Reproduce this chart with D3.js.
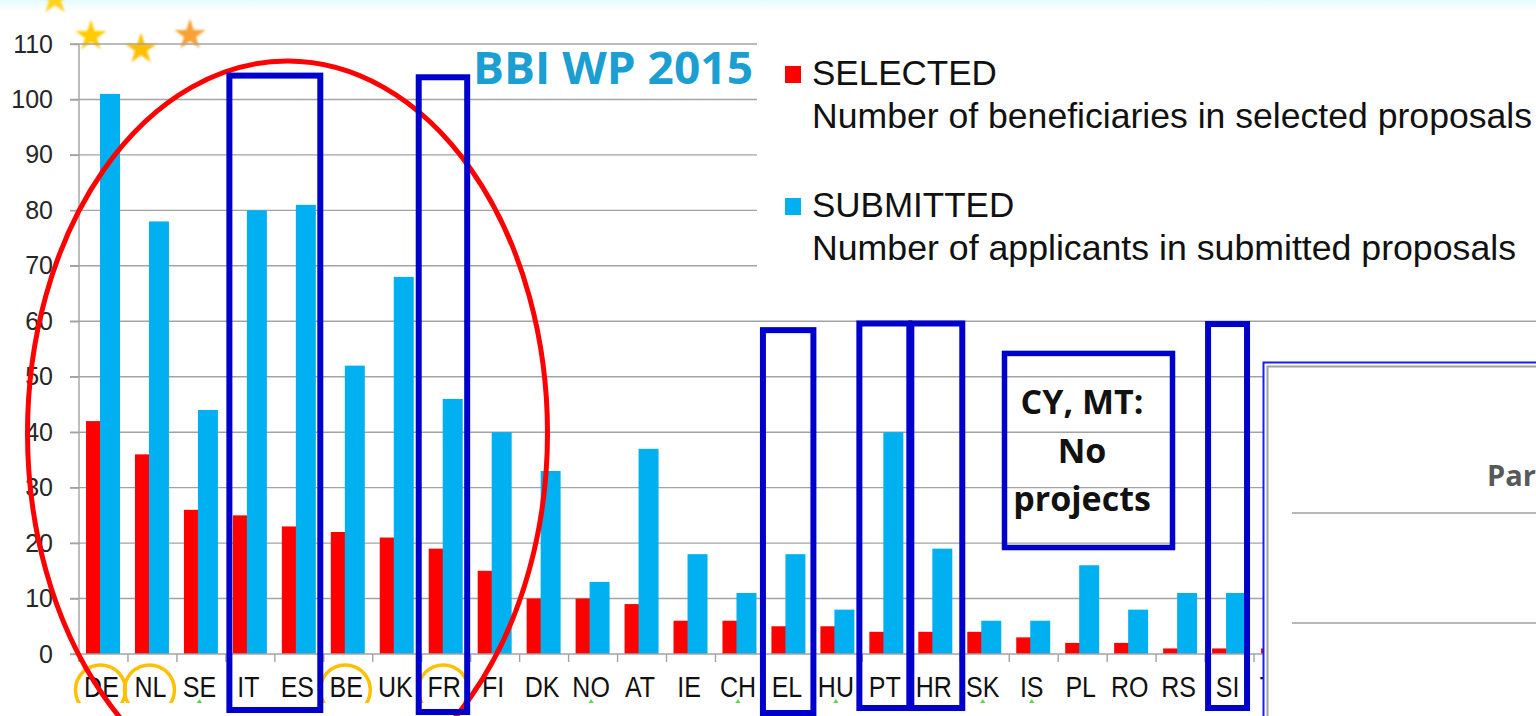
<!DOCTYPE html>
<html>
<head>
<meta charset="utf-8">
<script src="https://cdn.jsdelivr.net/npm/d3@7/dist/d3.min.js"></script>
<style>
  html, body { margin: 0; padding: 0; background: #fff; }
  svg { display: block; }
</style>
</head>
<body>
<svg id="chart" width="1536" height="716"></svg>
<script>
// ---------------- DATA ----------------
const categories = ["DE","NL","SE","IT","ES","BE","UK","FR","FI","DK","NO","AT","IE","CH","EL","HU","PT","HR","SK","IS","PL","RO","RS","SI","TR"];
const selected   = [42, 36, 26, 25, 23, 22, 21, 19, 15, 10, 10,  9,  6,  6,  5,  5,  4,  4,  4,  3,  2,  2,  1,  1,  1];
const submitted  = [101,78, 44, 80, 81, 52, 68, 46, 40, 33, 13, 37, 18, 11, 18,  8, 40, 19,  6,  6, 16,  8, 11, 11,  2];
const yTicks     = [0,10,20,30,40,50,60,70,80,90,100,110];
const seriesNames = ["SELECTED","SUBMITTED"];
const seriesDesc  = ["Number of beneficiaries in selected proposals","Number of applicants in submitted proposals"];
const circledCats = ["DE","NL","BE","FR"];
const flaggedCats = ["SE","NO","CH","HU","SK","IS"];

// ---------------- SETUP ----------------
const W = 1536, H = 716;
const svg = d3.select("#chart");
const colors = ["#ff0000", "#00b0f0"];

const x0 = d3.scaleBand().domain(categories).range([79, 79 + 25 * 48.96]).paddingInner(0).paddingOuter(0);
const y = d3.scaleLinear().domain([0, 110]).range([654, 44]);
const step = x0.step();

// top light strip
const defs = svg.append("defs");
const lg = defs.append("linearGradient").attr("id","topg").attr("x1",0).attr("y1",0).attr("x2",0).attr("y2",1);
lg.append("stop").attr("offset","0%").attr("stop-color","#e6fbff");
lg.append("stop").attr("offset","100%").attr("stop-color","#ffffff");
svg.append("rect").attr("x",0).attr("y",0).attr("width",W).attr("height",12).attr("fill","url(#topg)");
defs.append("filter").attr("id","blur").append("feGaussianBlur").attr("stdDeviation",0.8);

// decorative stars / bits at top-left
const starSym = r => d3.symbol().type(d3.symbolStar).size(r * r / 0.8908130915292852)();
const stars = [
  {x: 55, y: -1, c: "#ffd21a"},
  {x: 91, y: 36, c: "#ffcc00"},
  {x: 141, y: 49, c: "#ffbf00"},
  {x: 190, y: 35, c: "#f7a234"}
];
svg.append("g").attr("filter","url(#blur)").selectAll("path").data(stars).join("path")
  .attr("d", starSym(16.5)).attr("transform", d => `translate(${d.x},${d.y})`).attr("fill", d => d.c);
const gBits = svg.append("g").attr("filter","url(#blur)").attr("stroke","#b5d77a").attr("stroke-width",3).attr("stroke-linecap","round");
gBits.append("line").attr("x1",81).attr("x2",108).attr("y1",6).attr("y2",6);
gBits.append("line").attr("x1",133).attr("x2",160).attr("y1",6).attr("y2",6);
gBits.append("line").attr("x1",189).attr("x2",191).attr("y1",6).attr("y2",6);

// ---------------- GRID ----------------
svg.append("g").selectAll("line").data(yTicks.filter(t => t > 0)).join("line")
  .attr("x1", 70).attr("x2", W)
  .attr("y1", d => y(d)).attr("y2", d => y(d))
  .attr("stroke", "#a3a3a3").attr("stroke-width", 1.4);

// ---------------- BARS ----------------
// Excel-like overlapping bars: each bar ~20px, second series overlaps the first
const groupOffset = step * 0.143;
const barW = step * 0.408;
const seriesShift = step * 0.286;
const gBars = svg.append("g");
[selected, submitted].forEach((vals, si) => {
  gBars.append("g").selectAll("rect").data(categories).join("rect")
    .attr("x", (c) => x0(c) + groupOffset + si * seriesShift)
    .attr("y", (c, i) => y(vals[i]))
    .attr("width", barW)
    .attr("height", (c, i) => y(0) - y(vals[i]))
    .attr("fill", colors[si]);
});

// ---------------- AXES ----------------
const yAxis = d3.axisLeft(y).tickValues(yTicks).tickSize(9).tickPadding(17).tickFormat(d3.format("d"));
const gy = svg.append("g").attr("transform", "translate(79,0)").call(yAxis);
gy.select(".domain").attr("stroke", "#a3a3a3").attr("stroke-width", 1.4).attr("d", `M0,${y(110)}V${y(0) + 8}`);
gy.selectAll(".tick line").attr("stroke", "#a3a3a3").attr("stroke-width", 1.4);
gy.selectAll(".tick text").attr("font-family", "'Liberation Sans', Arial, sans-serif")
  .attr("font-size", 25).attr("fill", "#262626");

// x axis line + boundary ticks
svg.append("line").attr("x1", 70).attr("x2", W).attr("y1", y(0)).attr("y2", y(0))
  .attr("stroke", "#a3a3a3").attr("stroke-width", 1.4);
svg.append("g").selectAll("line").data(categories).join("line")
  .attr("x1", d => x0(d)).attr("x2", d => x0(d))
  .attr("y1", y(0)).attr("y2", y(0) + 8)
  .attr("stroke", "#a3a3a3").attr("stroke-width", 1.4);

// category labels
svg.append("g").selectAll("text").data(categories).join("text")
  .attr("transform", d => `translate(${x0(d) + step / 2 - 2},697) scale(1,1.2)`)
  .attr("text-anchor", "middle")
  .attr("font-family", "'Liberation Sans', Arial, sans-serif")
  .attr("font-size", 25).attr("fill", "#111")
  .text(d => d);

// green small markers under some labels
svg.append("g").selectAll("path").data(flaggedCats).join("path")
  .attr("d", d => { const cx = x0(d) + step / 2 - 2; return `M${cx - 4},705 L${cx},699 L${cx + 4},705 Z`; })
  .attr("fill", "#5fd84a");

// orange circles around labels
svg.append("g").selectAll("ellipse").data(circledCats).join("ellipse")
  .attr("cx", d => x0(d) + step / 2 - 3).attr("cy", 690)
  .attr("rx", 25).attr("ry", 25)
  .attr("fill", "none").attr("stroke", "#ffc000").attr("stroke-width", 3.5);
// bottom white strip (cuts circles as in the source)
svg.append("rect").attr("x", 0).attr("y", 703).attr("width", W).attr("height", 13).attr("fill", "#fff");

// ---------------- LEGEND ----------------
svg.append("rect").attr("x", 757).attr("y", 28).attr("width", W - 757).attr("height", 272).attr("fill", "#fff");
const lgG = svg.append("g").attr("font-family", "'Liberation Sans', Arial, sans-serif").attr("font-size", 35).attr("fill", "#111");
const descLen = [720, 704];
seriesNames.forEach((s, i) => {
  const base = 85 + i * 132;
  lgG.append("rect").attr("x", 785).attr("y", base - 19).attr("width", 16).attr("height", 17).attr("fill", colors[i]);
  lgG.append("text").attr("x", 812).attr("y", base).text(s);
  lgG.append("text").attr("x", 812).attr("y", base + 43)
    .attr("textLength", descLen[i]).attr("lengthAdjust", "spacingAndGlyphs").text(seriesDesc[i]);
});

// title
svg.append("text").attr("x", 473).attr("y", 84)
  .attr("font-family", "'Open Sans', 'Noto Sans', sans-serif").attr("font-weight", 700)
  .attr("font-size", 44).attr("fill", "#1b9fd2")
  .attr("textLength", 280).attr("lengthAdjust", "spacingAndGlyphs")
  .text("BBI WP 2015");

// ---------------- ANNOTATIONS ----------------
// red ellipse
svg.append("ellipse").attr("cx", 287.5).attr("cy", 433).attr("rx", 260).attr("ry", 372)
  .attr("fill", "none").attr("stroke", "#ff0000").attr("stroke-width", 5);

// blue boxes (hand drawn highlights)
const boxes = [
  {from: "IT", to: "ES", top: 104.3, bottom: 710, d0: 3.5, d1: -3.5},
  {from: "FR", to: "FR", top: 104.0, bottom: 712, d0: -3, d1: -3.5},
  {from: "EL", to: "EL", top: 58.4,  bottom: 713, d0: -1.5, d1: 0},
  {from: "PT", to: "PT", top: 59.6,  bottom: 708, d0: -3, d1: -2},
  {from: "HR", to: "HR", top: 59.6,  bottom: 708, d0: 0, d1: 2},
  {from: "SI", to: "SI", top: 59.5,  bottom: 708, d0: 3, d1: -7}
];
svg.append("g").selectAll("rect").data(boxes).join("rect")
  .attr("x", d => x0(d.from) + d.d0)
  .attr("y", d => y(d.top))
  .attr("width", d => (x0(d.to) + step + d.d1) - (x0(d.from) + d.d0))
  .attr("height", d => d.bottom - y(d.top))
  .attr("fill", "none").attr("stroke", "#0000cc").attr("stroke-width", 6);

// CY, MT note box
const note = svg.append("g");
note.append("rect").attr("x", 1004.5).attr("y", y(54.2)).attr("width", 168).attr("height", y(19.2) - y(54.2))
  .attr("fill", "#fff").attr("fill-opacity", 0).attr("stroke", "#0000cc").attr("stroke-width", 5.5);
["CY, MT:", "No", "projects"].forEach((t, i) => {
  note.append("text").attr("x", 1082).attr("y", 414 + i * 48.5)
    .attr("text-anchor", "middle")
    .attr("font-family", "'Open Sans', 'Noto Sans', sans-serif").attr("font-weight", 700)
    .attr("font-size", 34).attr("fill", "#111").text(t);
});

// overlapping panel at bottom right
const panel = svg.append("g");
panel.append("rect").attr("x", 1263.5).attr("y", 362.5).attr("width", 400).attr("height", 400)
  .attr("fill", "#fff").attr("stroke", "#1a1aff").attr("stroke-width", 2);
panel.append("rect").attr("x", 1267.5).attr("y", 366.5).attr("width", 400).attr("height", 400)
  .attr("fill", "#fff").attr("stroke", "#a0a0a0").attr("stroke-width", 2);
panel.append("text").attr("x", 1487).attr("y", 486)
  .attr("font-family", "'Open Sans', 'Noto Sans', sans-serif").attr("font-weight", 700)
  .attr("font-size", 29).attr("fill", "#595959").text("Par");
[513, 623].forEach(yy => panel.append("line").attr("x1", 1292).attr("x2", W).attr("y1", yy).attr("y2", yy)
  .attr("stroke", "#a0a0a0").attr("stroke-width", 1.5));
</script>
</body>
</html>
